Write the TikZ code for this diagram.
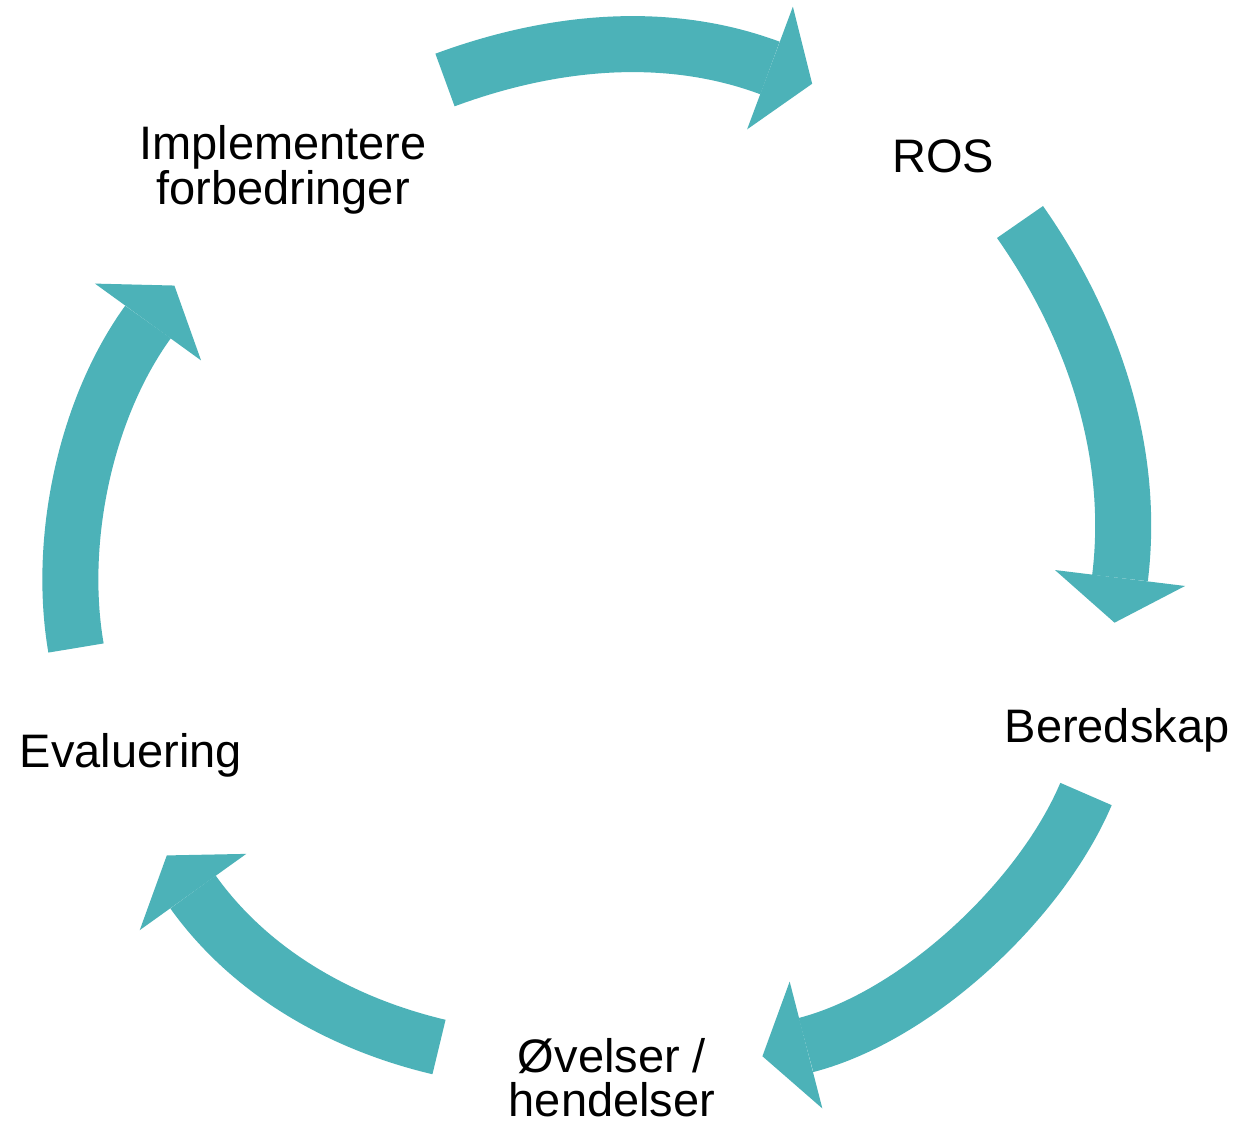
\documentclass[tikz,border=0pt]{standalone}
\usepackage{fontspec}
\setmainfont{Liberation Sans}
\usetikzlibrary{calc}
\definecolor{arrowteal}{RGB}{76,178,184}
\tikzset{
  band/.style={draw=arrowteal, line width=56pt, line cap=butt},
  headfill/.style={fill=arrowteal},
  lbl/.style={font=\fontsize{47}{40}\selectfont, inner sep=0pt, align=center, text=black},
}
\newcommand\cyclearrow[1]{%
  \draw[band] (#1t) .. controls (#1a) and (#1b) .. (#1h);
  \fill[headfill] ($(#1h)!65.5pt!90:(#1b)$) -- ($(#1h)!-45pt!(#1b)$) -- ($(#1h)!65.5pt!-90:(#1b)$) -- cycle;
}
\begin{document}
\begin{tikzpicture}[x=1pt,y=-1pt]
\useasboundingbox (0,0) rectangle (1258,1133);
\fill[white] (0,0) rectangle (1258,1133);

% labels
\node[lbl, anchor=base] (ros) at (943,172) {ROS};
\node[lbl, anchor=base] (bered) at (1117,742) {Beredskap};
\node[lbl, anchor=base] (eval) at (131,767) {Evaluering};
\node[lbl, font=\fontsize{47}{40}\selectfont] (impl) at (283,170) {Implementere\\forbedringer};
\node[lbl, font=\fontsize{47}{44}\selectfont] (ovel) at (612,1078) {Øvelser /\\hendelser};

% arrow 1: Implementere -> ROS
\coordinate (a1t) at (445,80);
\coordinate (a1a) at (549.9,41.2);
\coordinate (a1b) at (665.2,28.9);
\coordinate (a1h) at (770,68);
% arrow 2: ROS -> Beredskap
\coordinate (a2t) at (1020,222);
\coordinate (a2a) at (1093.1,326.4);
\coordinate (a2b) at (1135.5,451.5);
\coordinate (a2h) at (1120,578);
% arrow 3: Beredskap -> Ovelser
\coordinate (a3t) at (1086,794);
\coordinate (a3a) at (1041.2,899.8);
\coordinate (a3b) at (917.4,1016.3);
\coordinate (a3h) at (806,1045);
% arrow 4: Ovelser -> Evaluering
\coordinate (a4t) at (439,1047);
\coordinate (a4a) at (341.7,1024);
\coordinate (a4b) at (251,973);
\coordinate (a4h) at (193,892);
% arrow 5: Evaluering -> Implementere
\coordinate (a5t) at (76,648);
\coordinate (a5a) at (57.6,541.6);
\coordinate (a5b) at (84.8,409.3);
\coordinate (a5h) at (148,322);

\cyclearrow{a1}
\cyclearrow{a2}
\cyclearrow{a3}
\cyclearrow{a4}
\cyclearrow{a5}
\end{tikzpicture}
\end{document}
